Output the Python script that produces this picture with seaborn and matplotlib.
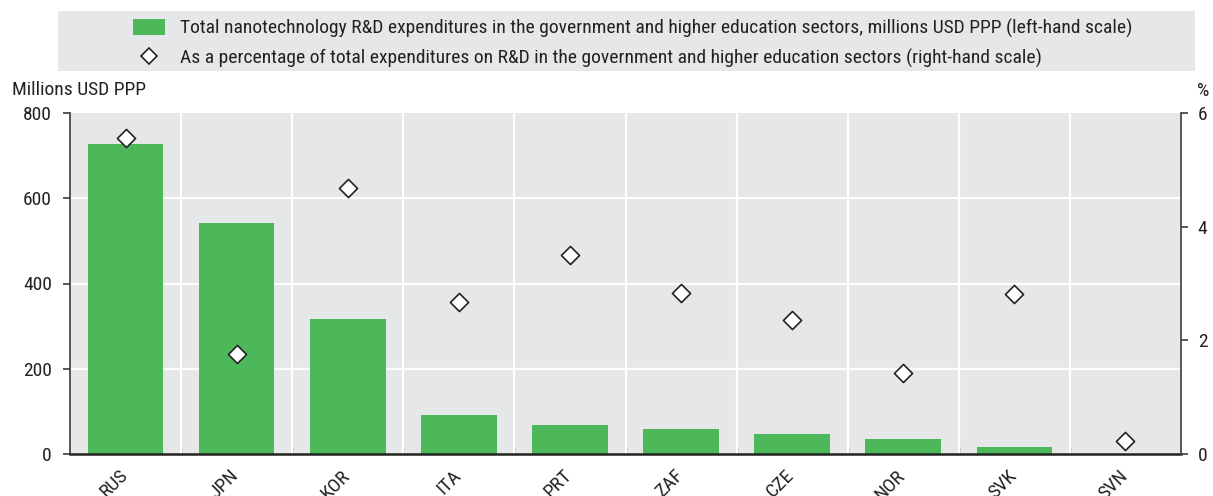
import matplotlib
matplotlib.use("Agg")
import matplotlib.pyplot as plt
from matplotlib.patches import Rectangle, Patch
from matplotlib.lines import Line2D
from matplotlib.transforms import ScaledTranslation
from matplotlib import font_manager
import seaborn as sns
import pandas as pd

countries = ["RUS", "JPN", "KOR", "ITA", "PRT", "ZAF", "CZE", "NOR", "SVK", "SVN"]
expenditures = [727, 542, 317, 91, 68, 58, 47, 35, 16, 0]
percentages = [5.56, 1.76, 4.68, 2.68, 3.50, 2.83, 2.36, 1.43, 2.82, 0.23]
left_ticks = [0, 200, 400, 600, 800]
right_ticks = [0, 2, 4, 6]
legend_labels = [
    "Total nanotechnology R&D expenditures in the government and higher education sectors, millions USD PPP (left-hand scale)",
    "As a percentage of total expenditures on R&D in the government and higher education sectors (right-hand scale)",
]

df = pd.DataFrame({"country": countries, "exp": expenditures, "pct": percentages})

sns.set_theme(style="white")
available = {f.name for f in font_manager.fontManager.ttflist}
family = "Liberation Sans"
for cand in ["Liberation Sans Narrow", "Roboto Condensed", "Open Sans Condensed", "Arial Narrow"]:
    if cand in available:
        family = cand
        break
fs = 14 if "Narrow" in family or "Condensed" in family else 12.5
plt.rcParams["font.family"] = [family, "DejaVu Sans"]
plt.rcParams["font.size"] = fs
txt = "#222222"

fig = plt.figure(figsize=(12.13, 4.96), dpi=100)
ax = fig.add_axes([70 / 1213, 1 - 454 / 496, (1181 - 70) / 1213, (454 - 113) / 496])
ax.set_facecolor("#E6E7E9")
green = "#4DB85A"

sns.barplot(data=df, x="country", y="exp", color=green, width=0.68, ax=ax,
            saturation=1, zorder=3, linewidth=0, edgecolor="none")
ax.set_ylim(0, 800)
ax.set_yticks(left_ticks)
ax.set_xlim(-0.5, len(countries) - 0.5)
ax.set_xlabel("")
ax.set_ylabel("")
for y in [200, 400, 600]:
    ax.axhline(y, color="white", lw=1.5, zorder=1)
for i in range(1, len(countries)):
    ax.axvline(i - 0.5, color="white", lw=1.5, zorder=1)

ax2 = ax.twinx()
sns.scatterplot(x=list(range(len(countries))), y=percentages, marker="D", s=85,
                color="white", edgecolor="#222222", linewidth=1.2, ax=ax2, zorder=5)
ax2.set_ylim(0, 6)
ax2.set_yticks(right_ticks)
ax2.set_xlim(-0.5, len(countries) - 0.5)

for a in (ax, ax2):
    for s in a.spines.values():
        s.set_visible(False)
ax.spines["left"].set_visible(True)
ax.spines["left"].set_color("#444444")
ax.spines["bottom"].set_visible(True)
ax.spines["bottom"].set_color("#222222")
ax.spines["bottom"].set_linewidth(1.8)
ax.spines["bottom"].set_zorder(6)
ax2.spines["right"].set_visible(True)
ax2.spines["right"].set_color("#444444")

ax.tick_params(axis="y", left=True, length=5, color="#444444", labelcolor=txt, labelsize=fs, pad=8)
ax2.tick_params(axis="y", right=True, length=5, color="#444444", labelcolor=txt, labelsize=fs, pad=7)
ax.set_xticks(range(len(countries)))
ax.set_xticklabels(countries, rotation=45, ha="right", rotation_mode="anchor", color=txt, fontsize=fs)
ax.tick_params(axis="x", bottom=False, pad=3)
shift = ScaledTranslation(-0.07, 0, fig.dpi_scale_trans)
for lab in ax.get_xticklabels():
    lab.set_transform(lab.get_transform() + shift)
ax.set_xticks([i - 0.5 for i in range(1, len(countries))], minor=True)
ax.tick_params(axis="x", which="minor", direction="in", length=5, color="#666666", bottom=True)

fig.text(12 / 1213, 1 - 90 / 496, "Millions USD PPP", ha="left", va="center", color=txt, fontsize=fs)
fig.text(1203 / 1213, 1 - 91 / 496, "%", ha="center", va="center", color=txt, fontsize=fs)

fig.patches.append(Rectangle((58 / 1213, 1 - 71 / 496), (1195 - 58) / 1213, 60 / 496,
                             transform=fig.transFigure, facecolor="#E6E7E9", edgecolor="none", zorder=0))
handles = [Patch(facecolor=green, edgecolor="none"),
           Line2D([], [], marker="D", ls="none", markersize=8, markerfacecolor="white",
                  markeredgecolor="#222222", markeredgewidth=1.2)]
fig.legend(handles, legend_labels, loc="center", bbox_to_anchor=(633 / 1213, 1 - 43 / 496),
           frameon=False, fontsize=fs, labelcolor=txt, handlelength=1.6, handleheight=0.9,
           labelspacing=0.55, handletextpad=0.8, borderpad=0)

fig.savefig("out.png", dpi=100)
